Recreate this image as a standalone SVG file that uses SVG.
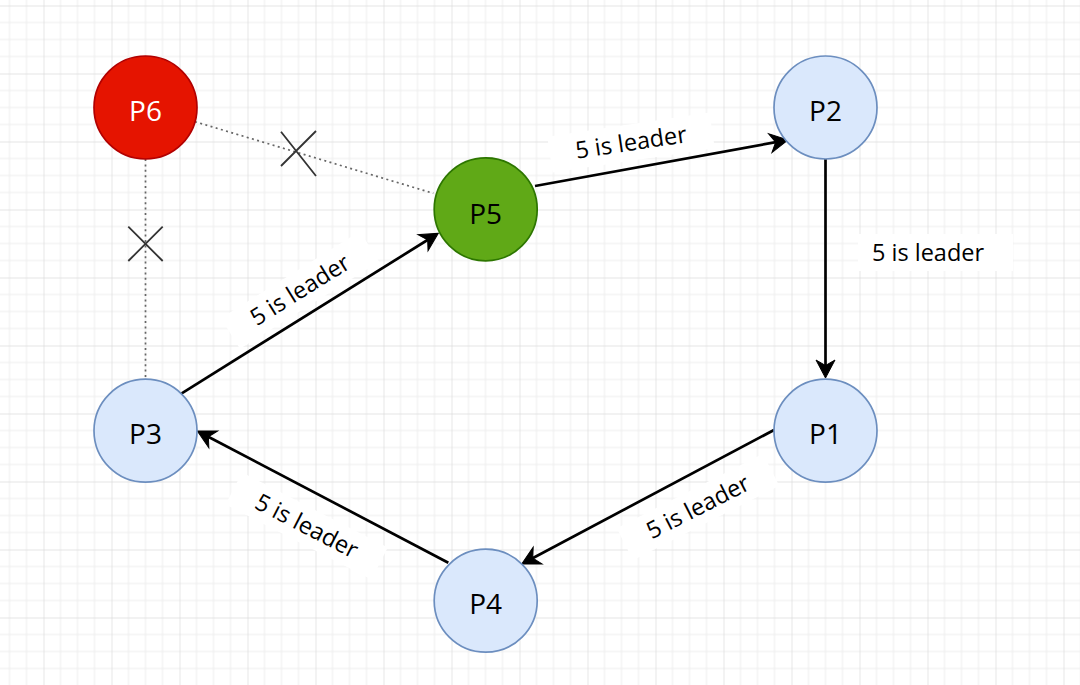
<svg xmlns="http://www.w3.org/2000/svg" width="1080" height="685" viewBox="0 0 1080 685">
  <defs>
    <pattern id="grid" x="-24.5" y="5.5" width="68" height="68" patternUnits="userSpaceOnUse">
      <path d="M17,0 V68 M34,0 V68 M51,0 V68 M0,17 H68 M0,34 H68 M0,51 H68" stroke="#ededed" stroke-width="1" fill="none"/>
      <path d="M0,0 V68 M0,0 H68" stroke="#dcdcdc" stroke-width="1.4" fill="none"/>
    </pattern>
    <marker id="arrow" markerUnits="userSpaceOnUse" markerWidth="30" markerHeight="24" refX="12" refY="12" orient="auto" overflow="visible">
      <path d="M20,12 L2,2.5 L7.5,12 L2,21.5 Z" fill="#000" stroke="#000" stroke-width="1" stroke-linejoin="miter"/>
    </marker>
  </defs>
  <style>
    .node-label { font-family: "Open Sans", "Noto Sans", "DejaVu Sans", sans-serif; font-size: 28px; text-anchor: middle; }
    .edge-label { font-family: "Open Sans", "Noto Sans", "DejaVu Sans", sans-serif; font-size: 23.5px; text-anchor: middle; fill: #000; }
    .label-bg { fill: #ffffff; }
    .blue { fill: #dae8fc; stroke: #6c8ebf; stroke-width: 1.7; }
    .red { fill: #e51400; stroke: #b20000; stroke-width: 1.7; }
    .green { fill: #60a917; stroke: #2d7600; stroke-width: 1.7; }
    .edge { stroke: #000; stroke-width: 2.7; fill: none; marker-end: url(#arrow); }
    .dotted { stroke: #666; stroke-width: 1.7; fill: none; stroke-dasharray: 2 3.4; }
    .cross { stroke: #333; stroke-width: 1.8; fill: none; }
  </style>

  <rect width="1080" height="685" fill="#ffffff"/>
  <rect width="1080" height="685" fill="url(#grid)"/>

  <g id="connectors">
    <line class="dotted" x1="195" y1="121.7" x2="433.3" y2="193.3"/>
    <line class="dotted" x1="145.5" y1="159" x2="145.5" y2="379.5"/>
    <path class="cross" d="M281,131.7 L316,176 M316,131 L281,166"/>
    <path class="cross" d="M128.3,226.7 L162.7,261 M162.7,226.7 L128.3,261"/>

    <line class="edge" x1="535" y1="186" x2="780.1" y2="141.4"/>
    <line class="edge" x1="825.5" y1="159" x2="825.5" y2="370"/>
    <line class="edge" x1="774" y1="430" x2="528.8" y2="560.2"/>
    <line class="edge" x1="448.3" y1="562.7" x2="204.4" y2="434.7"/>
    <line class="edge" x1="181.7" y1="393.3" x2="431.5" y2="237.5"/>

    <g transform="translate(631,142.5) rotate(-8.5)">
      <rect class="label-bg" x="-82" y="-18" width="164" height="36"/>
      <text class="edge-label" x="0" y="8">5 is leader</text>
    </g>
    <g transform="translate(928,252.5)">
      <rect class="label-bg" x="-70" y="-18.5" width="155" height="37"/>
      <text class="edge-label" x="0" y="8">5 is leader</text>
    </g>
    <g transform="translate(698,507) rotate(-27)">
      <rect class="label-bg" x="-82" y="-18" width="164" height="36"/>
      <text class="edge-label" x="0" y="8">5 is leader</text>
    </g>
    <g transform="translate(306.7,526) rotate(27.3)">
      <rect class="label-bg" x="-82" y="-18" width="164" height="36"/>
      <text class="edge-label" x="0" y="8">5 is leader</text>
    </g>
    <g transform="translate(300,290) rotate(-32)">
      <rect class="label-bg" x="-82" y="-18" width="164" height="36"/>
      <text class="edge-label" x="0" y="8">5 is leader</text>
    </g>
  </g>

  <g id="P6">
    <circle class="red" cx="145.5" cy="107.5" r="51.5"/>
    <text class="node-label" x="145.5" y="120.5" fill="#ffffff">P6</text>
  </g>
  <g id="P2">
    <circle class="blue" cx="825.5" cy="107.5" r="51.5"/>
    <text class="node-label" x="825.5" y="120.5" fill="#000000">P2</text>
  </g>
  <g id="P5">
    <circle class="green" cx="485.7" cy="209.3" r="51.5"/>
    <text class="node-label" x="485.7" y="223.5" fill="#000000">P5</text>
  </g>
  <g id="P3">
    <circle class="blue" cx="145.5" cy="430.7" r="51.5"/>
    <text class="node-label" x="145.5" y="444" fill="#000000">P3</text>
  </g>
  <g id="P1">
    <circle class="blue" cx="825.5" cy="430.7" r="51.5"/>
    <text class="node-label" x="825.5" y="444" fill="#000000">P1</text>
  </g>
  <g id="P4">
    <circle class="blue" cx="485.7" cy="600.7" r="51.5"/>
    <text class="node-label" x="485.7" y="614" fill="#000000">P4</text>
  </g>
</svg>
